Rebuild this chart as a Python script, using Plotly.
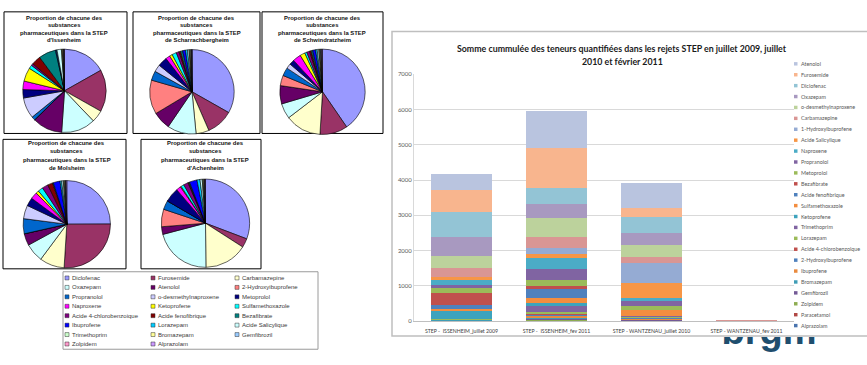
import plotly.graph_objects as go

W, H = 867, 365

# ---------------- data : pie charts ----------------
pie_substances = ["Diclofenac", "Furosemide", "Carbamazepine", "Oxazepam", "Atenolol",
                  "2-Hydroxyibuprofene", "Propranolol", "o-desmethylnaproxene", "Metoprolol",
                  "Naproxene", "Ketoprofene", "Sulfamethoxazole", "Acide 4-chlorobenzoique",
                  "Acide fenofibrique", "Bezafibrate", "Ibuprofene", "Lorazepam",
                  "Acide Salicylique", "Trimethoprim", "Bromazepam", "Gemfibrozil",
                  "Zolpidem", "Alprazolam"]
pie_colors = ["#9999FF", "#993366", "#FFFFCC", "#CCFFFF", "#660066", "#FF8080", "#0066CC",
              "#CCCCFF", "#000080", "#FF00FF", "#FFFF00", "#00FFFF", "#800080", "#800000",
              "#008080", "#0000FF", "#00CCFF", "#CCFFFF", "#CCFFCC", "#FFFF99", "#99CCFF",
              "#FF99CC", "#CC99FF"]

pct_issenheim = [16.9, 16.4, 4.7, 13.3, 11.7, 0, 1.4, 8.1, 3.3, 3.3, 5.3, 1.4, 0.8, 3.6, 6.7,
                 0.3, 0.3, 1.7, 0.3, 0.3, 0.3, 0.1, 0.2]
pct_scharrachbergheim = [33.3, 10.3, 5.0, 11.1, 6.9, 13.1, 3.6, 2.8, 3.6, 1.7, 1.1, 1.7, 1.1,
                         0.6, 0.8, 1.1, 0.8, 0.6, 0.3, 0.3, 0.3, 0.1, 0.1]
pct_schwindratzheim = [40.3, 10.5, 13.6, 5.8, 6.9, 3.9, 3.1, 1.9, 1.9, 3.1, 1.9, 0.8, 1.1,
                       0.6, 0.6, 1.1, 0.6, 0.6, 0.3, 0.3, 0.3, 0.2, 0.3]
pct_molsheim = [25.0, 26.1, 9.2, 6.9, 4.4, 0, 5.6, 5.0, 3.1, 2.5, 1.1, 1.9, 2.2, 1.9, 0.3,
                2.5, 0.6, 0.6, 0.3, 0.3, 0.3, 0.1, 0.3]
pct_achenheim = [30.8, 3.3, 15.8, 21.1, 2.8, 6.4, 3.3, 0, 5.3, 1.7, 0.3, 1.1, 1.7, 0.3, 0.3,
                 2.8, 1.1, 0.8, 0.3, 0.3, 0.3, 0.1, 0.2]

pie_title_head = ["Proportion de chacune des", "substances", "pharmaceutiques dans la STEP"]
pie_places = ["d'Issenheim", "de Scharrachbergheim", "de Schwindratzheim", "de Molsheim",
              "d'Achenheim"]

# ---------------- data : stacked bars ----------------
bar_categories = ["STEP -  ISSENHEIM_juillet 2009", "STEP -  ISSENHEIM_fev 2011",
                  "STEP - WANTZENAU_juillet 2010", "STEP - WANTZENAU_fev 2011"]
bar_series = ["Alprazolam", "Paracetamol", "Zolpidem", "Gemfibrozil", "Bromazepam",
              "Ibuprofene", "2-Hydroxyibuprofene", "Acide 4-chlorobenzoique", "Lorazepam",
              "Trimethoprim", "Ketoprofene", "Sulfamethoxazole", "Acide fenofibrique",
              "Bezafibrate", "Metoprolol", "Propranolol", "Naproxene", "Acide Salicylique",
              "1-Hydroxyibuprofene", "Carbamazepine", "o-desmethylnaproxene", "Oxazepam",
              "Diclofenac", "Furosemide", "Atenolol"]
issenheim_jul2009 = [5, 0, 8, 5, 8, 10, 0, 5, 5, 0, 232, 72, 113, 324, 138, 93, 139, 93,
                     0, 258, 325, 556, 703, 630, 445]
issenheim_fev2011 = [10, 10, 10, 40, 20, 50, 40, 30, 40, 185, 74, 139, 259, 93, 157, 324,
                     297, 119, 186, 295, 555, 400, 434, 1139, 1066]
wantzenau_jul2010 = [10, 0, 10, 12, 10, 20, 20, 10, 25, 40, 0, 167, 0, 0, 93, 139, 92, 444,
                     550, 185, 345, 340, 450, 240, 705]
wantzenau_fev2011 = [0, 0, 0, 0, 0, 0, 0, 0, 0, 0, 0, 0, 0, 0, 0, 0, 0, 0, 0, 20, 0, 0, 0,
                     0, 0]
bar_colors = ["#4A74AE", "#B14845", "#8EAD52", "#735A96", "#3F9DB6", "#E98A3E",
              "#4F81BD", "#C0504D", "#9BBB59", "#8064A2", "#3DA3BD", "#F38D3F",
              "#4F81BD", "#C0504D", "#9BBB59", "#8064A2", "#4BACC6", "#F79646",
              "#95ABD3", "#D99694", "#BCD29C", "#A899C0", "#93C4D5", "#F8B58E", "#B9C4DF"]
bar_title_lines = ["Somme cummulée des teneurs quantifiées dans les rejets STEP en juillet 2009, juillet",
                   "2010 et février 2011"]


def px(x):
    return x / W


def py(y):
    return 1 - y / H


fig = go.Figure()
shapes = []
annotations = []

# ---------------- pies ----------------
pie_values = [pct_issenheim, pct_scharrachbergheim, pct_schwindratzheim, pct_molsheim,
              pct_achenheim]
pie_geom = [  # centre x, centre y, radius, box (x0, y0, x1, y1), title x, first line y, spacing
    (64.5, 88.5, 42.5, (4, 8, 127, 132), 64, 14, 7.6),
    (192, 89.5, 43, (133, 8, 260, 132), 196.5, 14, 7.6),
    (322.5, 89.5, 43.5, (262, 8, 383, 132), 322, 14, 7.6),
    (66.8, 224.5, 44.5, (3, 138, 126, 270), 66.5, 141.7, 8.5),
    (205.5, 223.5, 45, (141, 138, 261, 270), 205, 141.7, 8.5),
]
for vals, place, (cx, cy, r, box, tx, ty, sp) in zip(pie_values, pie_places, pie_geom):
    shapes.append(dict(type="rect", xref="paper", yref="paper", x0=px(box[0]), x1=px(box[2]),
                       y0=py(box[3]), y1=py(box[1]), line=dict(color="black", width=1),
                       fillcolor="white", layer="below"))
    fig.add_trace(go.Pie(values=vals, labels=pie_substances, sort=False,
                         direction="clockwise", rotation=0, textinfo="none",
                         marker=dict(colors=pie_colors, line=dict(color="black", width=0.6)),
                         showlegend=False, hoverinfo="label+percent",
                         domain=dict(x=[px(cx - r), px(cx + r)], y=[py(cy + r), py(cy - r)])))
    for i, line in enumerate(pie_title_head + [place]):
        annotations.append(dict(text="<b>" + line + "</b>", x=px(tx), y=py(ty + i * sp),
                                xref="paper", yref="paper", xanchor="center", yanchor="middle",
                                showarrow=False,
                                font=dict(family="Liberation Sans", size=5.9, color="#111111")))

# pie legend box
shapes.append(dict(type="rect", xref="paper", yref="paper", x0=px(63), x1=px(318),
                   y0=py(352), y1=py(273), line=dict(color="#9A9A9A", width=1),
                   fillcolor="white", layer="below"))
col_x = [65, 151, 235]
for i, (name, col) in enumerate(zip(pie_substances, pie_colors)):
    c, rw = i % 3, i // 3
    yc = 279.3 + rw * 9.62
    x0 = col_x[c]
    shapes.append(dict(type="rect", xref="paper", yref="paper", x0=px(x0), x1=px(x0 + 4),
                       y0=py(yc + 2), y1=py(yc - 2), fillcolor=col,
                       line=dict(color="#333333", width=0.5)))
    annotations.append(dict(text=name, x=px(x0 + 5), y=py(yc), xref="paper", yref="paper",
                            xanchor="left", yanchor="middle", showarrow=False,
                            font=dict(family="Liberation Sans", size=6, color="#3A3A3A")))

# ---------------- stacked bars ----------------
shapes.append(dict(type="rect", xref="paper", yref="paper", x0=px(392), x1=px(872),
                   y0=py(338.5), y1=py(28), line=dict(color="#BFBFBF", width=1.5),
                   fillcolor="white", layer="below"))
cats = [issenheim_jul2009, issenheim_fev2011, wantzenau_jul2010, wantzenau_fev2011]
for i, (name, col) in enumerate(zip(bar_series, bar_colors)):
    fig.add_trace(go.Bar(x=bar_categories, y=[c[i] for c in cats], name=name,
                         marker=dict(color=col, line=dict(width=0)), showlegend=False,
                         xaxis="x", yaxis="y"))

# bar legend (top of legend = top of stack)
for j, (name, col) in enumerate(zip(bar_series[::-1], bar_colors[::-1])):
    yc = 61 + j * 11.12
    shapes.append(dict(type="rect", xref="paper", yref="paper", x0=px(794), x1=px(797.5),
                       y0=py(yc + 1.75), y1=py(yc - 1.75), fillcolor=col, line=dict(width=0)))
    annotations.append(dict(text=name, x=px(798.5), y=py(yc), xref="paper", yref="paper",
                            xanchor="left", yanchor="middle", showarrow=False,
                            font=dict(family="Lato", size=5.4, color="#595959")))

for line, yl in zip(bar_title_lines, [45, 58.5]):
    annotations.append(dict(text="<b>" + line + "</b>", x=px(622), y=py(yl), xref="paper",
                            yref="paper", xanchor="center", yanchor="middle", showarrow=False,
                            font=dict(family="Lato", size=8.8, color="#1A1A1A")))

# logo (partially hidden under the chart frame)
fig.add_trace(go.Scatter(x=[769], y=[336.5], mode="text", text=["<b>brgm</b>"],
                         textfont=dict(family="Liberation Sans", size=38, color="#1F4E6E"),
                         textposition="middle center", cliponaxis=True, showlegend=False,
                         hoverinfo="skip", xaxis="x2", yaxis="y2"))

fig.update_layout(
    width=W, height=H, margin=dict(l=0, r=0, t=0, b=0),
    paper_bgcolor="white", plot_bgcolor="rgba(0,0,0,0)",
    barmode="stack", bargap=0.36,
    xaxis=dict(domain=[px(414), px(794)], anchor="y", type="category", showgrid=False,
               showline=True, linecolor="#BFBFBF", linewidth=1, ticks="",
               ticklabelstandoff=5,
               tickfont=dict(family="Lato", size=5.2, color="#404040"), fixedrange=True),
    yaxis=dict(domain=[py(323.3), py(71.7)], anchor="x", range=[0, 7000], dtick=1000,
               showgrid=True, gridcolor="#D9D9D9", gridwidth=1, zeroline=False,
               showline=True, linecolor="#D9D9D9", ticks="",
               tickfont=dict(family="Lato", size=6, color="#595959"), fixedrange=True),
    xaxis2=dict(domain=[px(700), px(840)], anchor="y2", range=[700, 840], visible=False),
    yaxis2=dict(domain=[0, py(339.5)], anchor="x2", range=[365, 339.5], visible=False),
    shapes=shapes, annotations=annotations,
)

fig.write_html("out.html")
